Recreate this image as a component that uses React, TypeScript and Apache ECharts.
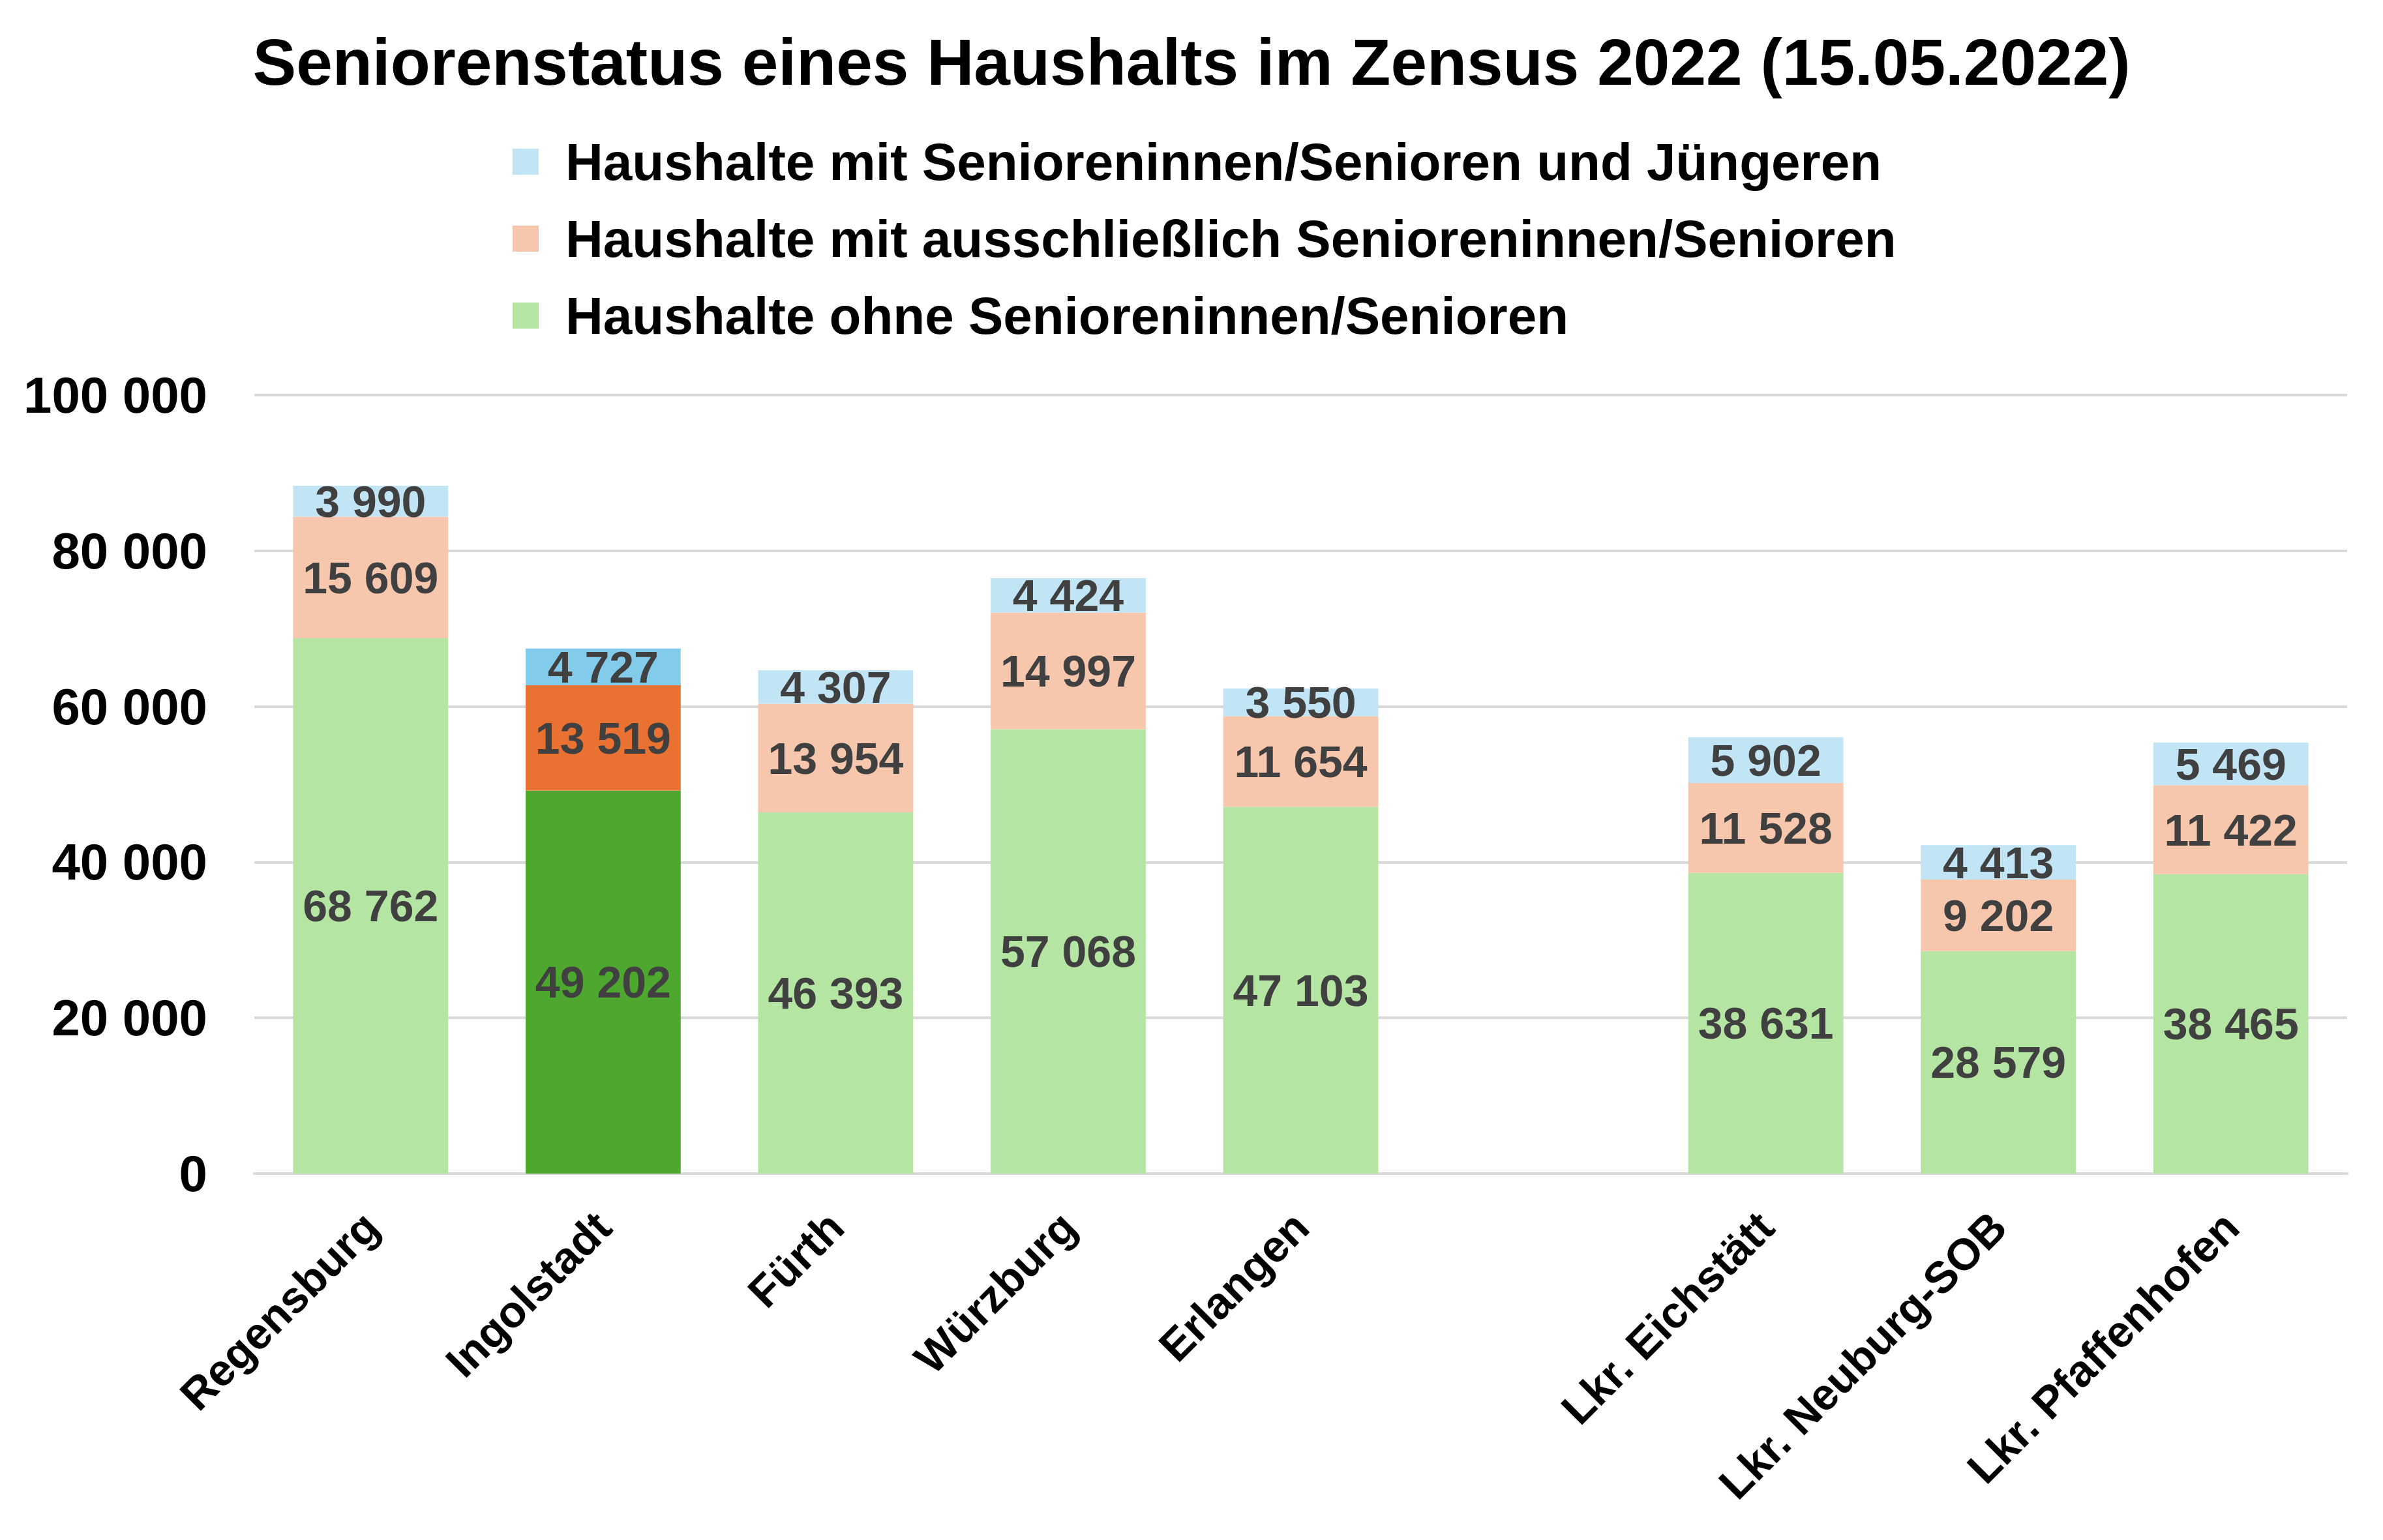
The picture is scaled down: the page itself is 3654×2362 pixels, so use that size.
import React, { useEffect, useRef } from "react";
import * as echarts from "echarts";

const categories = [
  "Regensburg",
  "Ingolstadt",
  "Fürth",
  "Würzburg",
  "Erlangen",
  "",
  "Lkr. Eichstätt",
  "Lkr. Neuburg-SOB",
  "Lkr. Pfaffenhofen",
];
const ohneSenioren = [68762, 49202, 46393, 57068, 47103, null, 38631, 28579, 38465];
const ausschliesslichSenioren = [15609, 13519, 13954, 14997, 11654, null, 11528, 9202, 11422];
const seniorenUndJuengere = [3990, 4727, 4307, 4424, 3550, null, 5902, 4413, 5469];
const yTicks = [0, 20000, 40000, 60000, 80000, 100000];
const highlightIndex = 1;

const seriesNames = [
  "Haushalte ohne Senioreninnen/Senioren",
  "Haushalte mit ausschließlich Senioreninnen/Senioren",
  "Haushalte mit Senioreninnen/Senioren und Jüngeren",
];
const lightColors = ["#B5E5A2", "#F6C6AD", "#C1E5F5"];
const darkColors = ["#4EA72E", "#E97132", "#83CBEB"];

const FONT = 'Arial, "Liberation Sans", sans-serif';

function fmt(v: number | null): string {
  if (v === null || v === undefined) return "";
  return String(v).replace(/\B(?=(\d{3})+(?!\d))/g, " ");
}

export default function App() {
  const ref = useRef<HTMLDivElement>(null);
  useEffect(() => {
    document.body.style.margin = "0";
    document.body.style.overflow = "hidden";
    if (!ref.current) return;
    const chart = echarts.init(ref.current, null, { renderer: "svg" });
    const allData = [ohneSenioren, ausschliesslichSenioren, seniorenUndJuengere];
    const series = allData.map((arr, si) => ({
      name: seriesNames[si],
      type: "bar",
      stack: "total",
      barCategoryGap: "33.3%",
      itemStyle: { color: lightColors[si] },
      label: {
        show: true,
        position: "inside",
        color: "#404040",
        fontWeight: "bold",
        fontSize: 68,
        fontFamily: FONT,
        formatter: (p: any) => fmt(p.value),
      },
      data: arr.map((v, i) =>
        i === highlightIndex
          ? { value: v, itemStyle: { color: darkColors[si] } }
          : { value: v }
      ),
    }));
    chart.setOption({
      animation: false,
      backgroundColor: "#ffffff",
      title: {
        text: "Seniorenstatus eines Haushalts im Zensus 2022 (15.05.2022)",
        left: "center",
        top: 40,
        textStyle: {
          fontSize: 100,
          fontWeight: "bold",
          color: "#000000",
          fontFamily: FONT,
        },
      },
      legend: {
        orient: "vertical",
        left: 781,
        top: 203,
        itemWidth: 40,
        itemHeight: 40,
        itemGap: 38,
        icon: "rect",
        data: [seriesNames[2], seriesNames[1], seriesNames[0]],
        textStyle: {
          fontSize: 80,
          fontWeight: "bold",
          color: "#000000",
          fontFamily: FONT,
          padding: [0, 0, 0, 36],
        },
      },
      grid: { left: 390, right: 55, top: 606, bottom: 562, containLabel: false },
      xAxis: {
        type: "category",
        data: categories,
        axisLine: { show: true, lineStyle: { color: "#D9D9D9", width: 4 } },
        axisTick: { show: false },
        axisLabel: {
          rotate: 45,
          interval: 0,
          margin: 70,
          fontSize: 68,
          fontWeight: "bold",
          color: "#000000",
          fontFamily: FONT,
        },
      },
      yAxis: {
        type: "value",
        min: yTicks[0],
        max: yTicks[yTicks.length - 1],
        interval: yTicks[1] - yTicks[0],
        axisLine: { show: false },
        axisTick: { show: false },
        splitLine: { lineStyle: { color: "#D9D9D9", width: 4 } },
        axisLabel: {
          margin: 72,
          fontSize: 78,
          fontWeight: "bold",
          color: "#000000",
          fontFamily: FONT,
          formatter: (v: number) => fmt(v),
        },
      },
      series,
    });
    return () => chart.dispose();
  }, []);
  return (
    <div
      ref={ref}
      style={{ position: "fixed", left: 0, top: 0, width: "3654px", height: "2362px" }}
    />
  );
}
